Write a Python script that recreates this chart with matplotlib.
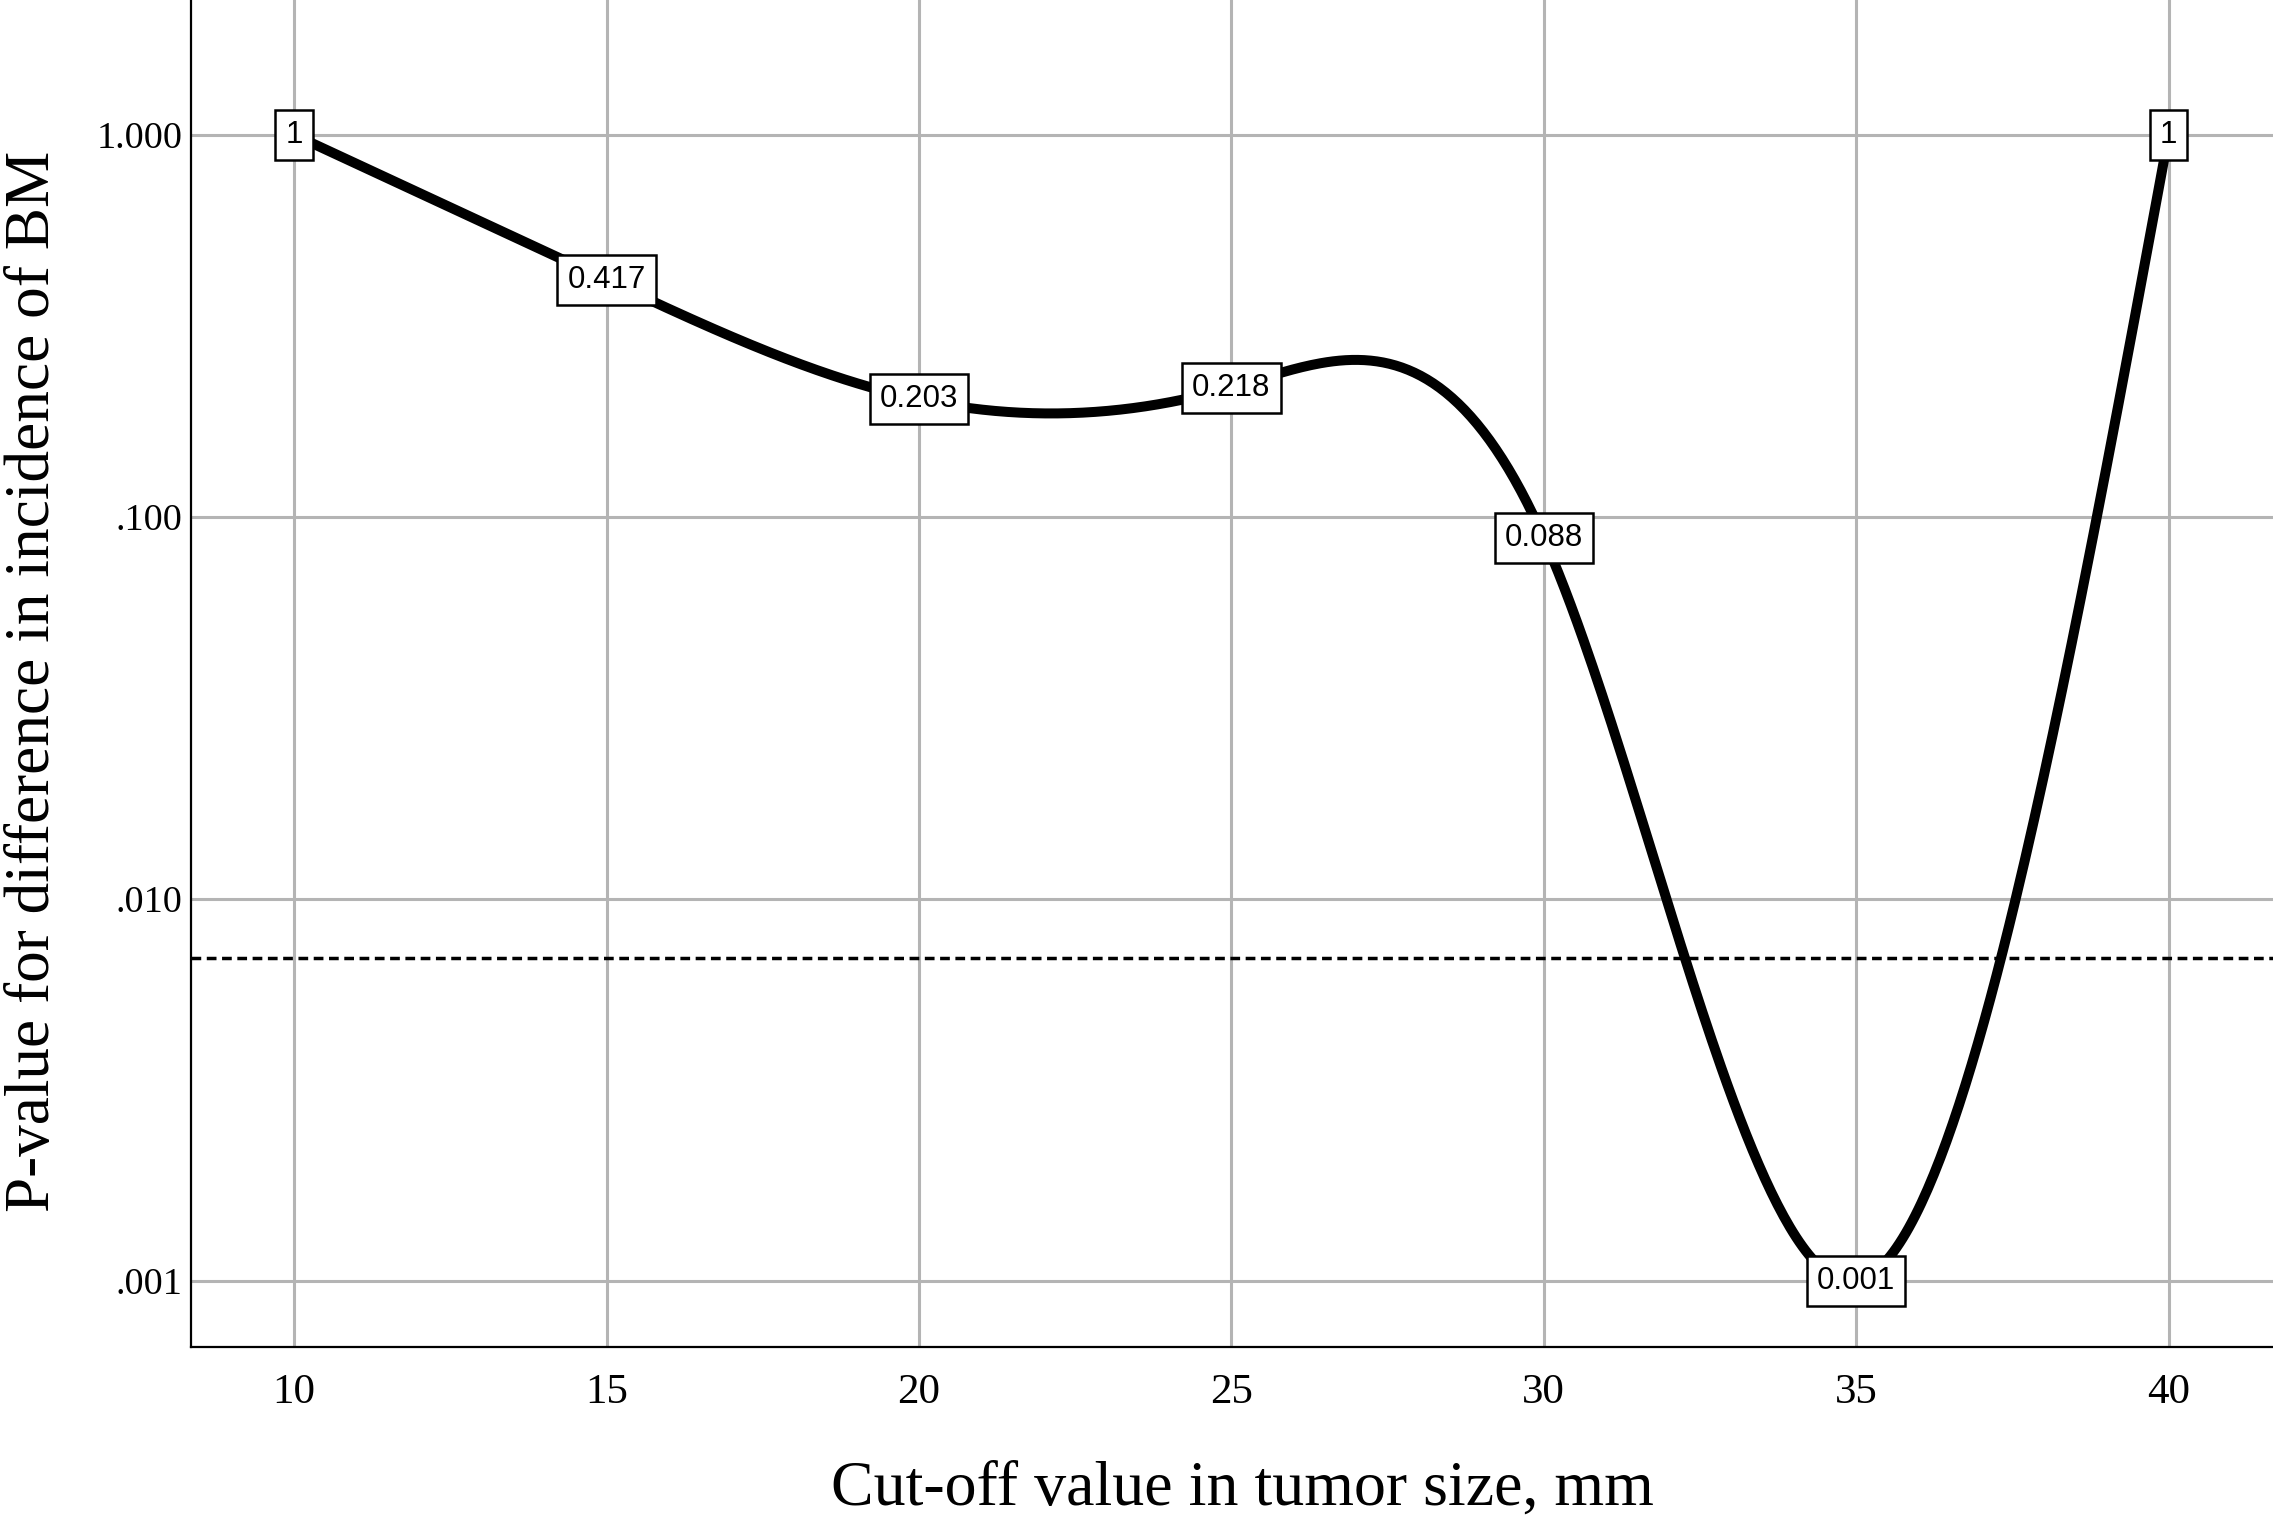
import numpy as np
import matplotlib
matplotlib.use("Agg")
import matplotlib.pyplot as plt

cutoff_mm = [10, 15, 20, 25, 30, 35, 40]
p_values = [1.0, 0.417, 0.203, 0.218, 0.088, 0.001, 1.0]
point_labels = ["1", "0.417", "0.203", "0.218", "0.088", "0.001", "1"]
threshold_p = 0.007

x_ticks = [10, 15, 20, 25, 30, 35, 40]
y_ticks = [0.001, 0.01, 0.1, 1.0]
y_tick_labels = [".001", ".010", ".100", "1.000"]


def natural_spline(xk, yk, n=600):
    # natural cubic spline through the knots, used only to draw the smooth line
    xk = np.asarray(xk, float)
    yk = np.asarray(yk, float)
    k = len(xk)
    h = np.diff(xk)
    A = np.zeros((k, k))
    b = np.zeros(k)
    A[0, 0] = A[-1, -1] = 1.0
    for i in range(1, k - 1):
        A[i, i - 1] = h[i - 1]
        A[i, i] = 2 * (h[i - 1] + h[i])
        A[i, i + 1] = h[i]
        b[i] = 6 * ((yk[i + 1] - yk[i]) / h[i] - (yk[i] - yk[i - 1]) / h[i - 1])
    M = np.linalg.solve(A, b)
    xs = np.linspace(xk[0], xk[-1], n)
    idx = np.clip(np.searchsorted(xk, xs) - 1, 0, k - 2)
    x0, x1 = xk[idx], xk[idx + 1]
    hh = x1 - x0
    t0, t1 = x1 - xs, xs - x0
    ys = (M[idx] * t0 ** 3 + M[idx + 1] * t1 ** 3) / (6 * hh) \
        + (yk[idx] / hh - M[idx] * hh / 6) * t0 \
        + (yk[idx + 1] / hh - M[idx + 1] * hh / 6) * t1
    return xs, ys


fig = plt.figure(figsize=(22.73, 15.20), dpi=100)
ax = fig.add_axes([191 / 2273, 1 - 1347 / 1520, 1 - 191 / 2273, 1347 / 1520])

ax.set_yscale("log")
ax.set_xlim(8.35, 41.67)
ax.set_ylim(10 ** -3.173, 10 ** 0.353)

ax.grid(True, color="#b4b4b4", linewidth=2.2, zorder=0)
ax.set_axisbelow(True)

xs, ys = natural_spline(cutoff_mm, np.log10(p_values))
ax.plot(xs, 10 ** ys, color="black", linewidth=7.2, solid_capstyle="butt", zorder=3)

ax.axhline(threshold_p, color="black", linewidth=2.5, linestyle=(0, (2.8, 1.6)), zorder=2)

for x, p, lab in zip(cutoff_mm, p_values, point_labels):
    ax.text(x, p, lab, ha="center", va="center", fontsize=22.5,
            family="Liberation Sans", zorder=5,
            bbox=dict(boxstyle="square,pad=0.32", facecolor="white",
                      edgecolor="black", linewidth=1.8))

ax.set_xticks(x_ticks)
ax.set_xticklabels([str(v) for v in x_ticks])
ax.set_yticks(y_ticks)
ax.set_yticklabels(y_tick_labels)
ax.minorticks_off()
ax.tick_params(axis="both", length=0)
ax.tick_params(axis="x", pad=19, labelsize=31)
ax.tick_params(axis="y", pad=6, labelsize=27.5)
for lab in ax.get_xticklabels() + ax.get_yticklabels():
    lab.set_family("Liberation Serif")

ax.spines["top"].set_visible(False)
ax.spines["right"].set_visible(False)
ax.spines["left"].set_linewidth(1.6)
ax.spines["bottom"].set_linewidth(1.6)

fig.text(1242 / 2273, 1 - 1490 / 1520, "Cut-off value in tumor size, mm",
         ha="center", va="center", fontsize=46, family="Liberation Serif")
fig.text(34 / 2273, 1 - 681 / 1520, "P-value for difference in incidence of BM",
         ha="center", va="center", rotation=90, fontsize=45.5, family="Liberation Serif")

fig.savefig("out.png", dpi=100)
